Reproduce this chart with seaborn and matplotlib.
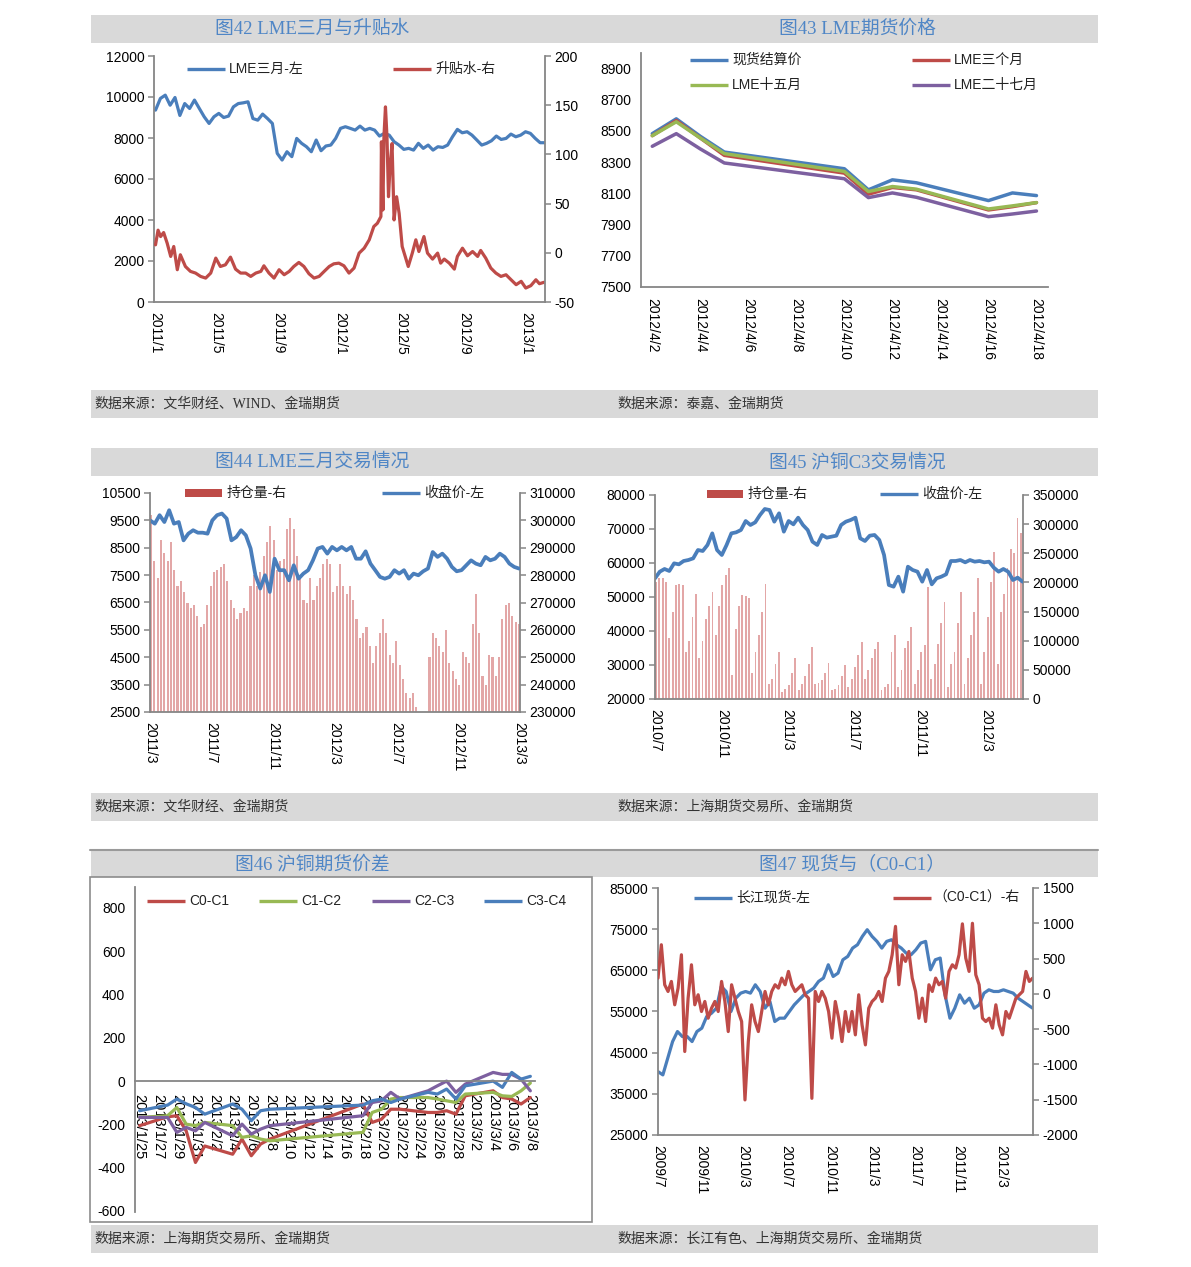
import numpy as np
import pandas as pd
import matplotlib
matplotlib.use('Agg')
import matplotlib.pyplot as plt
import matplotlib.dates as mdates
from matplotlib.lines import Line2D
from matplotlib.patches import Rectangle
from matplotlib.ticker import FixedLocator, FixedFormatter, FuncFormatter
import seaborn as sns

# ---------------- 图42 LME三月与升贴水 ----------------
lme3m_42 = [9360, 9930, 10090, 9600, 9975, 9100, 9680, 9440, 9850, 9440,
            9035, 8710, 9035, 9200, 9000, 9070, 9520, 9680, 9715, 9765,
            8950, 8870, 9165, 8950, 8710, 7250, 6925, 7330, 7090, 7980,
            7740, 7575, 7330, 7900, 7380, 7610, 7655, 7980, 8470, 8550,
            8470, 8385, 8580, 8385, 8470, 8385, 8095, 8225, 8140, 7820,
            7655, 7445, 7495, 7410, 7740, 7495, 7655, 7410, 7575, 7540,
            7655, 8060, 8420, 8255, 8305, 8140, 7900, 7655, 7740, 7865,
            8095, 7930, 7980, 8190, 8060, 8140, 8305, 8225, 7980, 7770, 7770]
spread_days_42 = [0, 5, 10, 16, 23, 30, 36, 43, 49, 59, 69, 79, 89, 99, 109, 119, 128, 138, 148, 158,
                  168, 178, 188, 198, 208, 214, 224, 234, 244, 254, 264, 273, 283, 293, 303, 313, 323, 333, 343, 352,
                  362, 372, 382, 392, 402, 412, 422, 431, 438, 445, 446, 449, 451, 454, 457, 460, 463, 467, 471, 476,
                  481, 487, 493, 499, 507, 514, 520, 530, 537, 547, 557, 563, 570, 580, 590, 596, 606, 616, 626, 636,
                  642, 652, 662, 672, 682, 692, 702, 712, 722, 731, 741, 751, 758, 767]
spread_42 = [8.1, 23, 16.5, 20.6, 9.8, -3.7, 6.4, -17.2, -2, -13.9,
             -18.9, -20.6, -24, -25.7, -20.6, -5.4, -13.9, -12.2, -4.4, -16.6,
             -20.6, -20.6, -24, -20.6, -18.9, -13.2, -20.6, -25.7, -17.2, -22.3,
             -18.9, -13.9, -9.8, -13.9, -21.3, -25.7, -24, -18.9, -13.9, -11.2,
             -10.5, -13.2, -20.6, -15.5, -0.3, 4.7, 13.2, 26.7, 30, 36.8,
             112.8, 43.6, 117.9, 148.3, 118, 57, 87.5, 111, 33.4, 57,
             40.2, 6.4, -3.7, -13.9, -0.3, 13.2, 1.3, 16.5, -0.3, -6.4,
             -0.3, -10.5, -6.4, -10.5, -16.6, -3.7, 4.7, -3, 1.3, -3.7,
             2.4, -5.4, -15.5, -20.6, -24, -22.3, -27.4, -32.4, -29, -35.8,
             -33.4, -27.4, -31.4, -30]

# ---------------- 图43 LME期货价格 ----------------
day_43 = [2, 3, 4, 5, 10, 11, 12, 13, 16, 17, 18]
spot_43 = [8483, 8578, 8466, 8365, 8258, 8123, 8187, 8168, 8054, 8103, 8086]
m3_43 = [8470, 8567, 8455, 8344, 8230, 8095, 8138, 8123, 7994, 8015, 8041]
m15_43 = [8470, 8559, 8455, 8355, 8241, 8112, 8144, 8127, 8000, 8020, 8041]
m27_43 = [8402, 8483, 8385, 8295, 8194, 8073, 8103, 8075, 7951, 7968, 7987]

# ---------------- 图44 LME三月交易情况 ----------------
close_44 = [9503, 9380, 9690, 9440, 9870, 9380, 9440, 8770, 9015, 9140,
            9050, 9050, 9015, 9500, 9690, 9750, 9565, 8770, 8890, 9140,
            8955, 8470, 7495, 7010, 7495, 6885, 8100, 7680, 7680, 7310,
            7860, 7370, 7555, 7680, 8040, 8470, 8530, 8285, 8530, 8405,
            8530, 8405, 8530, 8100, 8100, 8370, 7920, 7680, 7435, 7370,
            7435, 7680, 7555, 7680, 7370, 7555, 7495, 7640, 7740, 8345,
            8165, 8285, 8100, 7800, 7640, 7680, 7860, 8040, 7920, 7860,
            8165, 8040, 8100, 8285, 8165, 7920, 7800, 7740]
oi_44 = [302, 285, 279, 293, 288, 285, 292, 282, 276, 278,
         274, 270, 268, 269, 265, 261, 262, 269, 276, 281,
         282, 283, 284, 278, 271, 268, 264, 266, 268, 267,
         276, 280, 276, 281, 287, 292, 298, 293, 282, 285,
         286, 297, 301, 297, 287, 279, 271, 270, 279, 271,
         276, 279, 284, 286, 284, 274, 276, 284, 276, 273,
         276, 271, 264, 257, 259, 261, 254, 248, 254, 259,
         264, 259, 251, 248, 256, 247, 242, 237, 235, 237,
         232, 230, 230, 230, 250, 259, 257, 254, 252, 260,
         248, 245, 242, 240, 252, 250, 248, 262, 273, 259,
         243, 240, 251, 250, 243, 250, 264, 269, 270, 265,
         263, 262]

# ---------------- 图45 沪铜C3交易情况 ----------------
close_45 = [55490, 57450, 58240, 57650, 59900, 59610, 60590, 60880, 61370, 63820,
            63530, 65300, 68720, 63820, 62350, 65300, 68720, 69020, 69700, 72350,
            71180, 71960, 74120, 75880, 75590, 72160, 74610, 69220, 72350, 71370,
            73330, 71180, 69700, 66270, 65300, 68240, 67450, 67750, 68040, 71180,
            72160, 72650, 73330, 67260, 66470, 68040, 68240, 66770, 62350, 53530,
            53040, 55980, 51570, 58920, 57940, 57450, 54510, 57940, 53730, 55490,
            55980, 56670, 60590, 60590, 60880, 60200, 60880, 60390, 60590, 60200,
            60390, 58630, 57450, 58240, 57450, 55000, 55690, 54510]
oi_45 = [200, 207, 207, 200, 104, 150, 195, 198, 196, 81,
         100, 140, 181, 70, 100, 138, 160, 184, 110, 160,
         196, 212, 224, 41, 120, 160, 178, 176, 173, 45,
         80, 110, 150, 198, 25, 35, 60, 81, 12, 18,
         24, 45, 70, 15, 25, 40, 60, 90, 25, 28,
         33, 45, 61, 15, 18, 24, 40, 58, 20, 35,
         55, 75, 98, 35, 50, 70, 85, 98, 15, 20,
         25, 80, 110, 20, 50, 87, 100, 124, 25, 50,
         80, 93, 193, 35, 60, 95, 130, 167, 20, 60,
         80, 130, 184, 25, 70, 110, 150, 207, 25, 80,
         140, 200, 253, 60, 150, 180, 225, 258, 250, 310, 284]

# ---------------- 图46 沪铜期货价差 ----------------
dates_46 = ['2013-01-25', '2013-01-28', '2013-01-29', '2013-01-30', '2013-01-31', '2013-02-01',
            '2013-02-04', '2013-02-05', '2013-02-06', '2013-02-07', '2013-02-08', '2013-02-18',
            '2013-02-19', '2013-02-20', '2013-02-21', '2013-02-22', '2013-02-25', '2013-02-26',
            '2013-02-27', '2013-02-28', '2013-03-01', '2013-03-04', '2013-03-05', '2013-03-06',
            '2013-03-07', '2013-03-08']
c0c1 = [-206, -165, -160, -230, -376, -300, -338, -268, -345, -291, -268, -106, -191,
        -176, -130, -130, -145, -145, -137, -153, -68, -45, -76, -83, -106, -76]
c1c2 = [-168, -160, -122, -199, -206, -191, -206, -260, -253, -268, -276, -237, -145,
        -130, -83, -76, -76, -83, -91, -99, -60, -52, -68, -71, -45, -9]
c2c3 = [-168, -168, -237, -214, -230, -191, -253, -199, -245, -222, -206, -160, -99,
        -91, -52, -83, -45, -22, 0, -52, -14, 40, 31, 31, 9, -45]
c3c4 = [-137, -111, -83, -105, -122, -153, -106, -130, -183, -137, -130, -111, -91,
        -83, -99, -83, -52, -60, -37, -83, -22, 0, -29, 40, 9, 22]

# ---------------- 图47 现货与（C0-C1） ----------------
spot_47 = [40400, 39600, 43650, 47700, 50130, 48920, 48920, 47700, 50130, 50950,
           53780, 54590, 55810, 61080, 59860, 55000, 58240, 59460, 59860, 59460,
           61490, 59860, 55810, 57430, 52570, 53380, 53380, 55000, 56620, 57840,
           59050, 59860, 60680, 62300, 63110, 66350, 63510, 64320, 67570, 68380,
           70400, 71220, 73240, 74870, 73240, 72030, 70400, 72030, 72430, 71220,
           70400, 69190, 68780, 70000, 71620, 72030, 65130, 67570, 67980, 59050,
           53380, 55810, 59050, 57030, 58240, 55810, 56620, 59460, 60270, 59860,
           59860, 60270, 59860, 59460, 58240, 57430, 56620, 55810]
diff_47 = [223, 696, 129, 34, 176, -155, 81, 554, -817, -61,
           412, -155, -13, -250, -108, -345, -203, -108, -250, 176,
           -108, -534, 129, -61, -250, -392, -1503, -676, -155, -392,
           -534, -250, 34, -155, 34, 129, 81, 223, 129, 318,
           129, 34, 81, 129, -13, -61, -1480, 34, -108, 34,
           -61, -250, -628, -108, -345, -676, -250, -534, -250, -581,
           -13, -439, -723, -203, -108, -61, 34, -108, 223, 318,
           554, 956, 129, 554, 460, 601, 223, 34, -345, -61,
           -392, 129, 34, 223, 129, 176, -61, 318, 412, 365,
           554, 992, 507, 318, 1000, 270, 129, -345, -392, -345,
           -486, -155, -439, -581, -250, -345, -203, -61, -13, 34,
           318, 176, 223]

BLUE = '#4A7EBB'
RED = '#BE4B48'
GREEN = '#98B954'
PURPLE = '#7D60A0'
BAR = '#E3A7A7'
SPINE = '#868686'
TITLE_C = '#4F86C6'
BAND = '#D9D9D9'

sns.set_theme(style='white')
plt.rcParams['font.family'] = ['Liberation Sans', 'Noto Sans CJK SC']
plt.rcParams['axes.unicode_minus'] = False

W, H = 1191, 1267
fig = plt.figure(figsize=(W / 100, H / 100), dpi=100)
fig.patch.set_facecolor('white')


def box(l, t, r, b):
    return [l / W, 1 - b / H, (r - l) / W, (b - t) / H]


def fig_rect(l, t, r, b, **kw):
    fig.add_artist(Rectangle((l / W, 1 - b / H), (r - l) / W, (b - t) / H,
                             transform=fig.transFigure, **kw))


def fig_text(x, y, s, **kw):
    fig.text(x / W, 1 - y / H, s, **kw)


def leg_line(x0, x1, y, color, label, tx=None):
    fig.add_artist(Line2D([x0 / W, x1 / W], [1 - y / H] * 2, transform=fig.transFigure,
                          color=color, lw=2.4, solid_capstyle='butt'))
    fig_text(tx if tx else x1 + 4, y, label, va='center', ha='left', fontsize=10, color='#222222')


def leg_patch(x0, x1, y, color, label, tx=None):
    fig_rect(x0, y - 4, x1, y + 4, facecolor=color, edgecolor='none')
    fig_text(tx if tx else x1 + 5, y, label, va='center', ha='left', fontsize=10, color='#222222')


def style(ax, right=False):
    ax.set_facecolor('none')
    ax.spines['top'].set_visible(False)
    ax.spines['right'].set_visible(right)
    ax.spines['left'].set_visible(not right)
    for s in ax.spines.values():
        s.set_color(SPINE)
        s.set_linewidth(1.3)
    ax.tick_params(axis='both', which='both', direction='out', length=4, width=1.1,
                   color=SPINE, labelsize=10, labelcolor='black', pad=3)
    ax.set_xlabel('')
    ax.set_ylabel('')
    ax.grid(False)


def line(ax, x, y, color, lw=2.3):
    sns.lineplot(x=x, y=y, ax=ax, color=color, linewidth=lw, legend=False,
                 estimator=None, sort=False)


def month_axis(ax, months, lo, hi):
    ax.set_xlim(pd.Timestamp(lo), pd.Timestamp(hi))
    ax.xaxis.set_major_locator(mdates.MonthLocator(bymonth=months, bymonthday=1))
    ax.xaxis.set_major_formatter(FuncFormatter(
        lambda v, p: f"{mdates.num2date(v).year}/{mdates.num2date(v).month}"))
    ax.tick_params(axis='x', labelrotation=-90)


# ---------- bands and titles ----------
for t, b in [(15, 43), (448, 476), (850, 877)]:
    fig_rect(91, t, 1098, b, facecolor=BAND, edgecolor='none', zorder=0)
for t, b in [(390, 418), (793, 821), (1225, 1253)]:
    fig_rect(91, t, 1098, b, facecolor=BAND, edgecolor='none', zorder=0)
fig.add_artist(Line2D([90 / W, 1098 / W], [1 - 850 / H] * 2, transform=fig.transFigure,
                      color='#9A9A9A', lw=1.5))
fig_rect(90, 877, 592, 1222, facecolor='none', edgecolor='#8C8C8C', lw=1.2)

tfont = dict(fontsize=13.5, color=TITLE_C, ha='center', va='center',
             family=['Liberation Serif', 'Noto Sans CJK SC'])
fig_text(312, 29, '图42 LME三月与升贴水', **tfont)
fig_text(857, 29, '图43 LME期货价格', **tfont)
fig_text(312, 462, '图44 LME三月交易情况', **tfont)
fig_text(857, 462, '图45 沪铜C3交易情况', **tfont)
fig_text(312, 864, '图46 沪铜期货价差', **tfont)
fig_text(852, 864, '图47 现货与（C0-C1）', **tfont)

sfont = dict(fontsize=10, color='#333333', ha='left', va='center',
             family=['Liberation Serif', 'Noto Sans CJK SC'])
fig_text(94, 404, '数据来源：文华财经、WIND、金瑞期货', **sfont)
fig_text(617, 404, '数据来源：泰嘉、金瑞期货', **sfont)
fig_text(94, 807, '数据来源：文华财经、金瑞期货', **sfont)
fig_text(617, 807, '数据来源：上海期货交易所、金瑞期货', **sfont)
fig_text(94, 1239, '数据来源：上海期货交易所、金瑞期货', **sfont)
fig_text(617, 1239, '数据来源：长江有色、上海期货交易所、金瑞期货', **sfont)

# ---------- 图42 ----------
ax = fig.add_axes(box(154, 56, 545, 302))
ax2 = ax.twinx()
x42 = pd.date_range('2011-01-01', '2013-02-08', periods=len(lme3m_42))
line(ax, x42, lme3m_42, BLUE)
x42r = pd.Timestamp('2011-01-01') + pd.to_timedelta(spread_days_42, unit='D')
line(ax2, x42r, spread_42, RED)
style(ax)
style(ax2, right=True)
ax2.spines['bottom'].set_visible(False)
ax.set_ylim(0, 12000)
ax.set_yticks(range(0, 12001, 2000))
ax2.set_ylim(-50, 200)
ax2.set_yticks(range(-50, 201, 50))
month_axis(ax, [1, 5, 9], '2010-12-29', '2013-02-08')
leg_line(187, 225, 69, BLUE, 'LME三月-左')
leg_line(393, 431, 69, RED, '升贴水-右')

# ---------- 图43 ----------
ax = fig.add_axes(box(641, 53, 1048, 287))
line(ax, day_43, spot_43, BLUE, 2.5)
line(ax, day_43, m3_43, RED, 2.5)
line(ax, day_43, m15_43, GREEN, 2.5)
line(ax, day_43, m27_43, PURPLE, 2.5)
style(ax)
ax.set_ylim(7500, 9000)
ax.set_yticks(range(7500, 8901, 200))
ax.set_xlim(1.53, 18.48)
lab43 = list(range(2, 19, 2))
ax.xaxis.set_major_locator(FixedLocator(lab43))
ax.xaxis.set_major_formatter(FixedFormatter([f'2012/4/{d}' for d in lab43]))
ax.xaxis.set_minor_locator(FixedLocator([d - 0.5 for d in lab43[:-1]] + [18.5]))
ax.tick_params(axis='x', which='major', length=0, labelrotation=-90, pad=8)
leg_line(690, 728, 60, BLUE, '现货结算价')
leg_line(912, 950, 60, RED, 'LME三个月')
leg_line(690, 728, 85, GREEN, 'LME十五月')
leg_line(912, 950, 85, PURPLE, 'LME二十七月')

# ---------- 图44 ----------
ax = fig.add_axes(box(150, 493, 520, 712))
ax2 = ax.twinx()
x44b = pd.date_range('2011-03-03', '2013-03-01', periods=len(oi_44))
ax2.bar(x44b, [v * 1000 for v in oi_44], width=4.2, color=BAR, linewidth=0)
x44 = pd.date_range('2011-03-01', '2013-03-01', periods=len(close_44))
line(ax, x44, close_44, BLUE, 2.7)
ax.set_zorder(ax2.get_zorder() + 1)
style(ax)
style(ax2, right=True)
ax2.spines['bottom'].set_visible(False)
ax.set_ylim(2500, 10500)
ax.set_yticks(range(2500, 10501, 1000))
ax2.set_ylim(230000, 310000)
ax2.set_yticks(range(230000, 310001, 10000))
month_axis(ax, [3, 7, 11], '2011-03-01', '2013-03-03')
leg_patch(185, 222, 493, RED, '持仓量-右')
leg_line(382, 420, 493, BLUE, '收盘价-左')

# ---------- 图45 ----------
ax = fig.add_axes(box(655, 495, 1023, 699))
ax2 = ax.twinx()
x45b = pd.date_range('2010-07-03', '2012-05-04', periods=len(oi_45))
ax2.bar(x45b, [v * 1000 for v in oi_45], width=3.4, color=BAR, linewidth=0)
x45 = pd.date_range('2010-07-01', '2012-05-07', periods=len(close_45))
line(ax, x45, close_45, BLUE, 2.7)
ax.set_zorder(ax2.get_zorder() + 1)
style(ax)
style(ax2, right=True)
ax2.spines['bottom'].set_visible(False)
ax.set_ylim(20000, 80000)
ax.set_yticks(range(20000, 80001, 10000))
ax2.set_ylim(0, 350000)
ax2.set_yticks(range(0, 350001, 50000))
month_axis(ax, [7, 11, 3], '2010-07-01', '2012-05-08')
leg_patch(707, 743, 494, RED, '持仓量-右')
leg_line(880, 918, 494, BLUE, '收盘价-左')

# ---------- 图46 ----------
ax = fig.add_axes(box(135, 887, 535, 1212))
x46 = pd.to_datetime(dates_46)
line(ax, x46, c0c1, RED)
line(ax, x46, c1c2, GREEN)
line(ax, x46, c2c3, PURPLE)
line(ax, x46, c3c4, BLUE)
style(ax)
ax.set_ylim(-605, 897)
ax.set_yticks(range(-600, 801, 200))
ax.spines['bottom'].set_position(('data', 0))
ax.set_xlim(pd.Timestamp('2013-01-24 12:00'), pd.Timestamp('2013-03-08 12:00'))
lab46 = pd.date_range('2013-01-25', '2013-03-08', freq='2D')
ax.xaxis.set_major_locator(FixedLocator(mdates.date2num(lab46)))
ax.xaxis.set_major_formatter(FixedFormatter([f'{d.year}/{d.month}/{d.day}' for d in lab46]))
ax.xaxis.set_minor_locator(FixedLocator(mdates.date2num(lab46 - pd.Timedelta(hours=12))))
ax.tick_params(axis='x', which='major', length=0, labelrotation=-90, pad=9, labelsize=10.5)
leg_line(147, 185, 901, RED, 'C0-C1')
leg_line(259, 297, 901, GREEN, 'C1-C2')
leg_line(372, 410, 901, PURPLE, 'C2-C3')
leg_line(484, 522, 901, BLUE, 'C3-C4')

# ---------- 图47 ----------
ax = fig.add_axes(box(658, 888, 1033, 1135))
ax2 = ax.twinx()
x47 = pd.date_range('2009-07-01', '2012-05-30', periods=len(spot_47))
line(ax, x47, spot_47, BLUE)
x47r = pd.date_range('2009-07-01', '2012-05-30', periods=len(diff_47))
line(ax2, x47r, diff_47, RED)
style(ax)
style(ax2, right=True)
ax2.spines['bottom'].set_visible(False)
ax.set_ylim(25000, 85000)
ax.set_yticks(range(25000, 85001, 10000))
ax2.set_ylim(-2000, 1500)
ax2.set_yticks(range(-2000, 1501, 500))
month_axis(ax, [7, 11, 3], '2009-07-01', '2012-05-31')
leg_line(694, 732, 898, BLUE, '长江现货-左')
leg_line(893, 931, 898, RED, '（C0-C1）-右', tx=933)

fig.savefig('out.png', dpi=100, facecolor='white')
